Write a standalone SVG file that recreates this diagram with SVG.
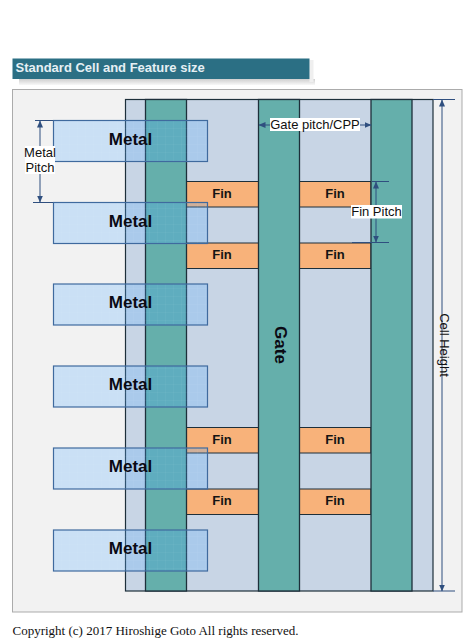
<svg xmlns="http://www.w3.org/2000/svg" width="464" height="642" viewBox="0 0 464 642">
<style>
.s{font-family:"Liberation Sans",Arial,sans-serif}
.gate{fill:#65afab;stroke:#1d2f3a;stroke-width:1.3}
.fin{fill:#f8b27a;stroke:#1d2f3a;stroke-width:1}
.metal{fill:url(#grid);stroke:#3f6a9e;stroke-width:1.2}
.mt{font:bold 17px "Liberation Sans",Arial,sans-serif;fill:#0a0a14;text-anchor:middle}
.ft{font:bold 13px "Liberation Sans",Arial,sans-serif;fill:#141414;text-anchor:middle}
.dim{stroke:#2f4f7f;stroke-width:1;fill:none}
.lb{font:13px "Liberation Sans",Arial,sans-serif;fill:#101010;text-anchor:middle}
.bg{fill:#fff}
</style>
<defs>
<pattern id="grid" width="8" height="8" patternUnits="userSpaceOnUse" x="53" y="120">
<rect width="8" height="8" fill="#4aa6fe" fill-opacity=".24"/>
<path d="M0 0H8M0 0V8" stroke="#fff" stroke-opacity=".07" stroke-width="1"/>
</pattern>
<marker id="a" markerWidth="7" markerHeight="6" refX="6.5" refY="3" orient="auto-start-reverse" markerUnits="userSpaceOnUse"><path d="M0 0L7 3L0 6Z" fill="#2f4f7f"/></marker>
<linearGradient id="sh" x1="0" y1="0" x2="0" y2="1"><stop offset="0" stop-color="#cfcfcf"/><stop offset="1" stop-color="#f8f8f8"/></linearGradient>
</defs>
<rect width="464" height="642" fill="#fff"/>
<g id="title">
<rect x="19" y="79" width="296" height="6" fill="url(#sh)"/>
<rect x="309.5" y="60" width="4" height="22" fill="#efefef"/>
<rect x="12.5" y="58.5" width="297" height="20.5" fill="#2b6f84"/>
<text x="15.5" y="72" font-size="13" font-weight="bold" fill="#e6f0f4" class="s">Standard Cell and Feature size</text>
</g>
<rect id="panel" x="12.5" y="89.5" width="449.5" height="522.5" fill="#f2f2f2" stroke="#ababab" stroke-width="1"/>
<g id="cell"><rect x="125.5" y="99.5" width="307.5" height="491.5" fill="#c8d5e5" stroke="#1d2f3a" stroke-width="1.2"/></g>
<g id="fins">
<g id="fin1"><rect class="fin" x="186.500" y="181.500" width="72" height="25.500"/><text class="ft" x="222" y="197.500">Fin</text></g>
<g id="fin2"><rect class="fin" x="299.500" y="181.500" width="71.500" height="25.500"/><text class="ft" x="335" y="197.500">Fin</text></g>
<g id="fin3"><rect class="fin" x="186.500" y="243" width="72" height="25.500"/><text class="ft" x="222" y="259">Fin</text></g>
<g id="fin4"><rect class="fin" x="299.500" y="243" width="71.500" height="25.500"/><text class="ft" x="335" y="259">Fin</text></g>
<g id="fin5"><rect class="fin" x="186.500" y="427.500" width="72" height="25.500"/><text class="ft" x="222" y="443.500">Fin</text></g>
<g id="fin6"><rect class="fin" x="299.500" y="427.500" width="71.500" height="25.500"/><text class="ft" x="335" y="443.500">Fin</text></g>
<g id="fin7"><rect class="fin" x="186.500" y="489" width="72" height="25.500"/><text class="ft" x="222" y="505">Fin</text></g>
<g id="fin8"><rect class="fin" x="299.500" y="489" width="71.500" height="25.500"/><text class="ft" x="335" y="505">Fin</text></g>
</g>
<g id="gates">
<rect class="gate" x="145.500" y="99.500" width="41" height="491.500"/>
<g id="gate2"><rect class="gate" x="258.500" y="99.500" width="41" height="491.500"/>
<text transform="translate(275 345) rotate(90)" font-size="17" font-weight="bold" fill="#0a0a14" text-anchor="middle" class="s">Gate</text></g>
<rect class="gate" x="371" y="99.500" width="41" height="491.500"/>
</g>
<g id="metals">
<g id="metal1"><rect class="metal" x="53.500" y="120.500" width="154" height="41"/><text class="mt" x="130.500" y="144.500">Metal</text></g>
<g id="metal2"><rect class="metal" x="53.500" y="202.500" width="154" height="41"/><text class="mt" x="130.500" y="226.500">Metal</text></g>
<g id="metal3"><rect class="metal" x="53.500" y="284" width="154" height="41"/><text class="mt" x="130.500" y="308">Metal</text></g>
<g id="metal4"><rect class="metal" x="53.500" y="366" width="154" height="41"/><text class="mt" x="130.500" y="390">Metal</text></g>
<g id="metal5"><rect class="metal" x="53.500" y="448" width="154" height="41"/><text class="mt" x="130.500" y="472">Metal</text></g>
<g id="metal6"><rect class="metal" x="53.500" y="530" width="154" height="41"/><text class="mt" x="130.500" y="554">Metal</text></g>
</g>
<g id="connectors">
<path class="dim" d="M35 120.500H53M33 202.500H53"/>
<path class="dim" d="M40 121V202" marker-start="url(#a)" marker-end="url(#a)"/>
<path class="dim" d="M259 125H371" marker-start="url(#a)" marker-end="url(#a)"/>
<path class="dim" d="M372 181.500H389M352 242.500H389"/>
<path class="dim" d="M376 182V242" marker-start="url(#a)" marker-end="url(#a)"/>
<path class="dim" d="M433 99.500H455M433 591H455"/>
<path class="dim" d="M442 100V591" marker-start="url(#a)" marker-end="url(#a)"/>
</g>
<g id="labels">
<rect class="bg" x="25" y="146" width="30" height="28"/>
<text class="lb" x="40" y="156.500">Metal</text><text class="lb" x="40" y="171.500">Pitch</text>
<rect class="bg" x="270" y="118" width="90" height="13"/>
<text class="lb" x="315" y="129">Gate pitch/CPP</text>
<rect class="bg" x="351" y="205" width="51" height="13.500"/>
<text class="lb" x="376.500" y="216">Fin Pitch</text>
<text class="lb" transform="translate(440 345) rotate(90)">Cell Height</text>
</g>
<text id="copyright" x="12.500" y="635" font-size="13" fill="#111" font-family="Liberation Serif,Times New Roman,serif">Copyright (c) 2017 Hiroshige Goto All rights reserved.</text>
</svg>
